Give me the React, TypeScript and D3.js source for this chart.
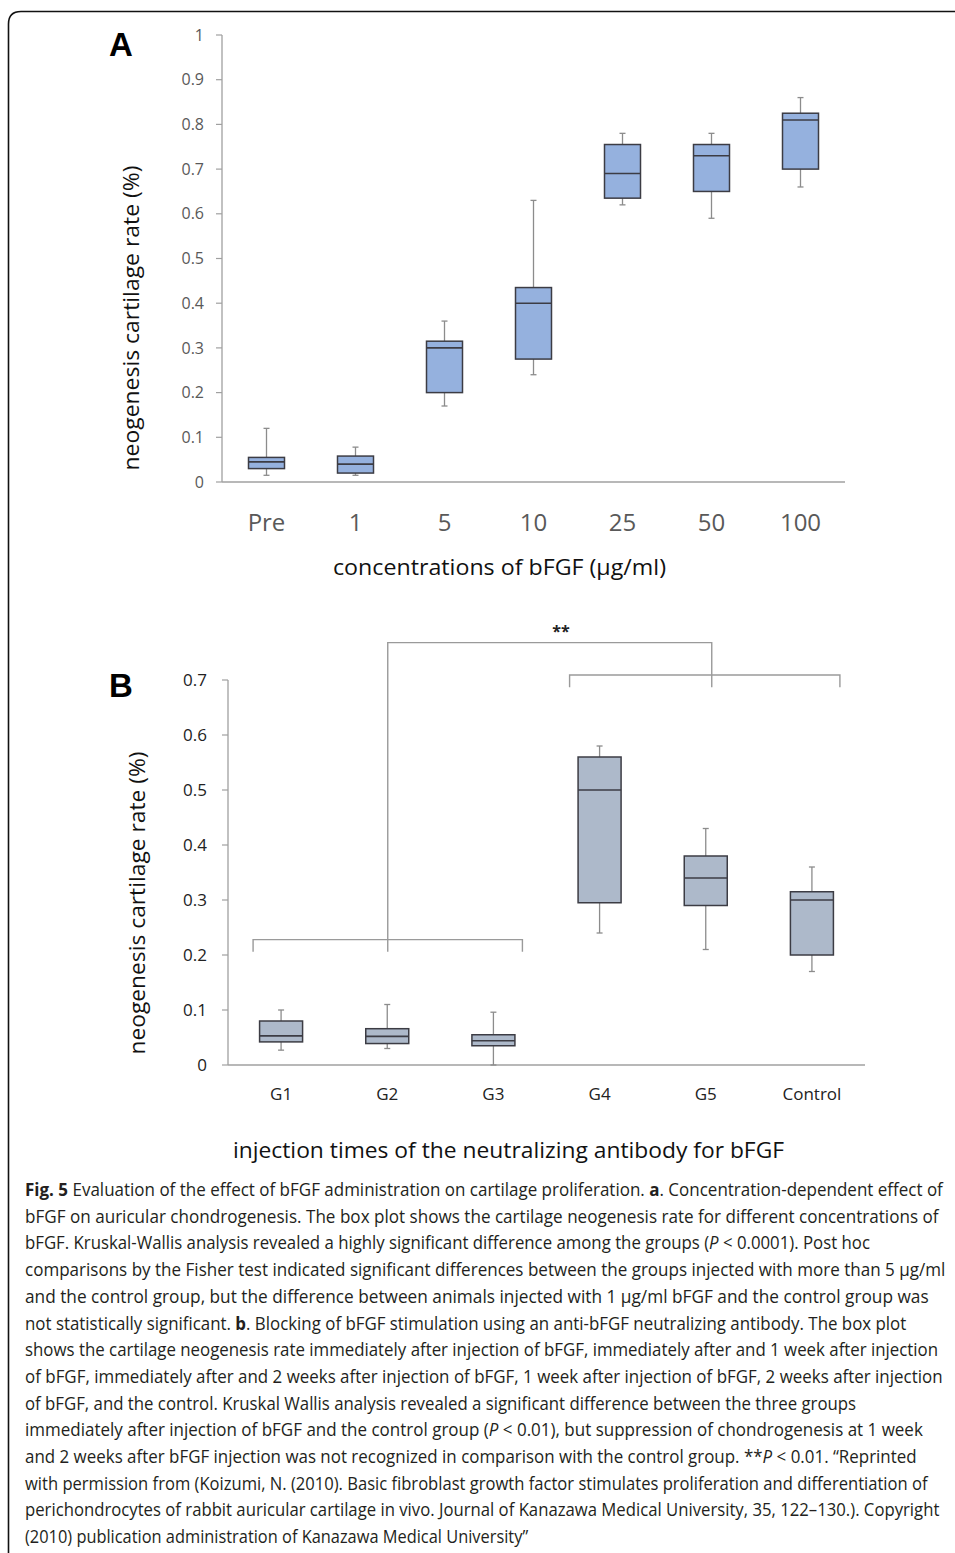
import React, { useLayoutEffect, useRef, useState } from 'react';
import * as d3 from 'd3';

// ---------- Panel A data ----------
const catsA = ['Pre', '1', '5', '10', '25', '50', '100'];
const lowA = [0.015, 0.015, 0.17, 0.24, 0.62, 0.59, 0.66];
const q1A = [0.03, 0.02, 0.2, 0.275, 0.635, 0.65, 0.7];
const medA = [0.045, 0.04, 0.3, 0.4, 0.69, 0.73, 0.81];
const q3A = [0.055, 0.058, 0.315, 0.435, 0.755, 0.755, 0.825];
const highA = [0.12, 0.078, 0.36, 0.63, 0.78, 0.78, 0.86];
const ticksA = [0, 0.1, 0.2, 0.3, 0.4, 0.5, 0.6, 0.7, 0.8, 0.9, 1];
const tickLabelsA = ['0', '0.1', '0.2', '0.3', '0.4', '0.5', '0.6', '0.7', '0.8', '0.9', '1'];

// ---------- Panel B data ----------
const catsB = ['G1', 'G2', 'G3', 'G4', 'G5', 'Control'];
const lowB = [0.027, 0.03, 0, 0.24, 0.21, 0.17];
const q1B = [0.042, 0.039, 0.035, 0.295, 0.29, 0.2];
const medB = [0.053, 0.052, 0.044, 0.5, 0.34, 0.3];
const q3B = [0.08, 0.066, 0.055, 0.56, 0.38, 0.315];
const highB = [0.1, 0.11, 0.096, 0.58, 0.43, 0.36];
const ticksB = [0, 0.1, 0.2, 0.3, 0.4, 0.5, 0.6, 0.7];
const tickLabelsB = ['0', '0.1', '0.2', '0.3', '0.4', '0.5', '0.6', '0.7'];

// significance brackets (value levels)
const bracketLowGroups = ['G1', 'G3'];
const bracketLowLevel = 0.228;
const bracketLowLeg = 0.206;
const bracketHighGroups = ['G4', 'Control'];
const bracketHighLevel = 0.709;
const bracketHighLeg = 0.687;
const bracketTopLevel = 0.768;
const sigLabel = '**';

// ---------- Caption ----------
type Seg = { t: string; b?: boolean; i?: boolean };
const captionLines: Seg[][] = [
  [{ t: 'Fig. 5', b: true }, { t: ' Evaluation of the effect of bFGF administration on cartilage proliferation. ' }, { t: 'a', b: true }, { t: '. Concentration-dependent effect of' }],
  [{ t: 'bFGF on auricular chondrogenesis. The box plot shows the cartilage neogenesis rate for different concentrations of' }],
  [{ t: 'bFGF. Kruskal-Wallis analysis revealed a highly significant difference among the groups (' }, { t: 'P', i: true }, { t: ' < 0.0001). Post hoc' }],
  [{ t: 'comparisons by the Fisher test indicated significant differences between the groups injected with more than 5 μg/ml' }],
  [{ t: 'and the control group, but the difference between animals injected with 1 μg/ml bFGF and the control group was' }],
  [{ t: 'not statistically significant. ' }, { t: 'b', b: true }, { t: '. Blocking of bFGF stimulation using an anti-bFGF neutralizing antibody. The box plot' }],
  [{ t: 'shows the cartilage neogenesis rate immediately after injection of bFGF, immediately after and 1 week after injection' }],
  [{ t: 'of bFGF, immediately after and 2 weeks after injection of bFGF, 1 week after injection of bFGF, 2 weeks after injection' }],
  [{ t: 'of bFGF, and the control. Kruskal Wallis analysis revealed a significant difference between the three groups' }],
  [{ t: 'immediately after injection of bFGF and the control group (' }, { t: 'P', i: true }, { t: ' < 0.01), but suppression of chondrogenesis at 1 week' }],
  [{ t: 'and 2 weeks after bFGF injection was not recognized in comparison with the control group. **' }, { t: 'P', i: true }, { t: ' < 0.01. \u201CReprinted' }],
  [{ t: 'with permission from (Koizumi, N. (2010). Basic fibroblast growth factor stimulates proliferation and differentiation of' }],
  [{ t: 'perichondrocytes of rabbit auricular cartilage in vivo. Journal of Kanazawa Medical University, 35, 122\u2013130.). Copyright' }],
  [{ t: '(2010) publication administration of Kanazawa Medical University\u201D' }],
];
const captionLineEnds = [942, 938, 870, 945, 928, 906, 938, 942, 856, 922, 916, 927, 939, 528];

const FONT = "'Open Sans', 'DejaVu Sans', sans-serif";

function BoxPlot(props: {
  cats: string[]; low: number[]; q1: number[]; med: number[]; q3: number[]; high: number[];
  x: d3.ScaleBand<string>; y: d3.ScaleLinear<number, number>; fill: string; boxW: number;
}) {
  const { cats, low, q1, med, q3, high, x, y, fill, boxW } = props;
  return (
    <g>
      {cats.map((c, i) => {
        const cx = (x(c) as number) + x.bandwidth() / 2;
        return (
          <g key={c}>
            <line x1={cx} x2={cx} y1={y(q3[i])} y2={y(high[i])} stroke="#8c8c8c" strokeWidth={1.3} />
            <line x1={cx - 3} x2={cx + 3} y1={y(high[i])} y2={y(high[i])} stroke="#8c8c8c" strokeWidth={1.3} />
            <line x1={cx} x2={cx} y1={y(q1[i])} y2={y(low[i])} stroke="#8c8c8c" strokeWidth={1.3} />
            <line x1={cx - 3} x2={cx + 3} y1={y(low[i])} y2={y(low[i])} stroke="#8c8c8c" strokeWidth={1.3} />
            <rect x={cx - boxW / 2} y={y(q3[i])} width={boxW} height={y(q1[i]) - y(q3[i])} fill={fill} stroke="#3c3c44" strokeWidth={1.5} />
            <line x1={cx - boxW / 2} x2={cx + boxW / 2} y1={y(med[i])} y2={y(med[i])} stroke="#3c3c44" strokeWidth={1.6} />
          </g>
        );
      })}
    </g>
  );
}

function CaptionLine(props: { segs: Seg[]; y: number; target: number }) {
  const ref = useRef<SVGTextElement>(null);
  const [sx, setSx] = useState(0.88);
  useLayoutEffect(() => {
    if (ref.current) {
      const w = ref.current.getComputedTextLength();
      if (w > 0) setSx(props.target / w);
    }
  }, [props.target]);
  return (
    <g transform={`translate(25,${props.y}) scale(${sx},1)`}>
      <text ref={ref} x={0} y={0} fontSize={18} fill="#231f20">
        {props.segs.map((s, si) => (
          <tspan key={si} fontWeight={s.b ? 'bold' : undefined} fontStyle={s.i ? 'italic' : undefined}>{s.t}</tspan>
        ))}
      </text>
    </g>
  );
}

export default function App() {
  // Panel A scales
  const xA = d3.scaleBand<string>().domain(catsA).range([222, 845]);
  const yA = d3.scaleLinear().domain([0, 1]).range([482, 35]);
  // Panel B scales
  const xB = d3.scaleBand<string>().domain(catsB).range([228, 865]);
  const yB = d3.scaleLinear().domain([0, 0.7]).range([1065, 680]);
  const cB = (c: string) => (xB(c) as number) + xB.bandwidth() / 2;

  const bl1 = cB(bracketLowGroups[0]) - 28;
  const bl2 = cB(bracketLowGroups[1]) + 29;
  const blMid = (bl1 + bl2) / 2;
  const bh1 = cB(bracketHighGroups[0]) - 30;
  const bh2 = cB(bracketHighGroups[1]) + 28;
  const bhMid = cB('G5') + 6;

  return (
    <svg width={955} height={1553} style={{ position: 'absolute', left: 0, top: 0, background: '#fff' }} fontFamily={FONT}>
      <rect x={0} y={0} width={955} height={1553} fill="#fff" />
      {/* frame */}
      <path d="M8.5,1560 L8.5,24 Q8.5,11.5 21,11.5 L960,11.5" fill="none" stroke="#111" strokeWidth={1.6} />

      {/* ---------- Panel A ---------- */}
      <text x={109} y={56} fontFamily="'Liberation Sans', Arial, sans-serif" fontWeight="bold" fontSize={33} fill="#000">A</text>
      <line x1={222} x2={222} y1={yA(1)} y2={yA(0)} stroke="#a0a0a0" strokeWidth={1.3} />
      <line x1={222} x2={845} y1={yA(0)} y2={yA(0)} stroke="#a0a0a0" strokeWidth={1.3} />
      {ticksA.map((t, i) => (
        <g key={i}>
          <line x1={216} x2={222} y1={yA(t)} y2={yA(t)} stroke="#a0a0a0" strokeWidth={1.2} />
          <text x={204} y={yA(t)} dy="0.35em" textAnchor="end" fontSize={16} fill="#595959">{tickLabelsA[i]}</text>
        </g>
      ))}
      <BoxPlot cats={catsA} low={lowA} q1={q1A} med={medA} q3={q3A} high={highA} x={xA} y={yA} fill="#95b1de" boxW={36} />
      {catsA.map((c) => (
        <text key={c} x={(xA(c) as number) + xA.bandwidth() / 2} y={531} textAnchor="middle" fontSize={24} fill="#595959">{c}</text>
      ))}
      <text x={499.5} y={575} textAnchor="middle" fontSize={21} fill="#111" textLength={333} lengthAdjust="spacingAndGlyphs">concentrations of bFGF (μg/ml)</text>
      <text transform={`translate(139,318) rotate(-90)`} textAnchor="middle" fontSize={21} fill="#111" textLength={305} lengthAdjust="spacingAndGlyphs">neogenesis cartilage rate (%)</text>

      {/* ---------- Panel B ---------- */}
      <text x={109} y={697} fontFamily="'Liberation Sans', Arial, sans-serif" fontWeight="bold" fontSize={33} fill="#000">B</text>
      <line x1={228} x2={228} y1={yB(0.7)} y2={yB(0)} stroke="#a0a0a0" strokeWidth={1.3} />
      <line x1={228} x2={865} y1={yB(0)} y2={yB(0)} stroke="#a0a0a0" strokeWidth={1.3} />
      {ticksB.map((t, i) => (
        <g key={i}>
          <line x1={222} x2={228} y1={yB(t)} y2={yB(t)} stroke="#a0a0a0" strokeWidth={1.2} />
          <text x={207} y={yB(t)} dy="0.35em" textAnchor="end" fontSize={17} fill="#222">{tickLabelsB[i]}</text>
        </g>
      ))}
      {/* brackets */}
      <g stroke="#9a9a9a" strokeWidth={1.4} fill="none">
        <path d={`M${bl1},${yB(bracketLowLeg)} L${bl1},${yB(bracketLowLevel)} L${bl2},${yB(bracketLowLevel)} L${bl2},${yB(bracketLowLeg)}`} />
        <path d={`M${bh1},${yB(bracketHighLeg)} L${bh1},${yB(bracketHighLevel)} L${bh2},${yB(bracketHighLevel)} L${bh2},${yB(bracketHighLeg)}`} />
        <path d={`M${blMid},${yB(bracketLowLeg)} L${blMid},${yB(bracketTopLevel)} L${bhMid},${yB(bracketTopLevel)} L${bhMid},${yB(bracketHighLeg)}`} />
      </g>
      <text x={561} y={yB(bracketTopLevel) - 6} textAnchor="middle" fontSize={16} fontWeight="bold" fill="#222">{sigLabel}</text>
      <BoxPlot cats={catsB} low={lowB} q1={q1B} med={medB} q3={q3B} high={highB} x={xB} y={yB} fill="#adb9ca" boxW={43} />
      {catsB.map((c) => (
        <text key={c} x={cB(c)} y={1100} textAnchor="middle" fontSize={17} fill="#222">{c}</text>
      ))}
      <text x={508.5} y={1158} textAnchor="middle" fontSize={21} fill="#111" textLength={551} lengthAdjust="spacingAndGlyphs">injection times of the neutralizing antibody for bFGF</text>
      <text transform={`translate(145,903) rotate(-90)`} textAnchor="middle" fontSize={21} fill="#111" textLength={303} lengthAdjust="spacingAndGlyphs">neogenesis cartilage rate (%)</text>

      {/* ---------- Caption ---------- */}
      {captionLines.map((segs, li) => (
        <CaptionLine key={li} segs={segs} y={1196 + li * 26.7} target={captionLineEnds[li] - 25} />
      ))}
    </svg>
  );
}
